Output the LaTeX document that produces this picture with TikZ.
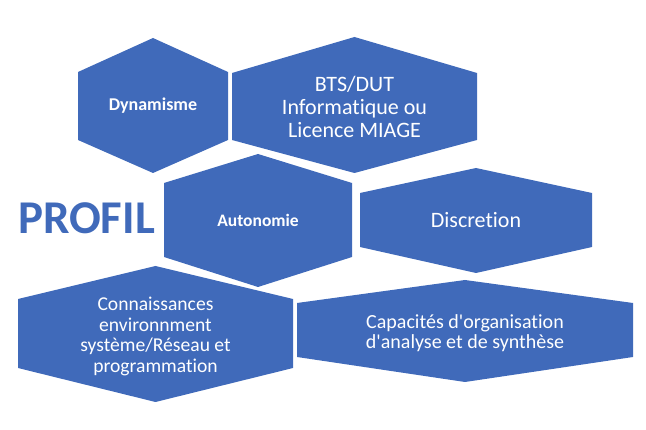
\documentclass[tikz,border=0pt]{standalone}
\usepackage{fontspec}
\setmainfont{Carlito}[Ligatures={TeX,NoCommon}]
\usepackage{tikz}
\definecolor{hexblue}{RGB}{64,106,186}
\tikzset{
    hexfill/.style={fill=hexblue},
    hextext/.style={text=white, align=center, inner sep=0pt}
}
\newcommand{\hexcell}[9]{%
    \fill[hexfill] (#2,#5) -- ({(#2+#3)/2},#4) -- (#3,#5) -- (#3,#6)
        -- ({(#2+#3)/2},#7) -- (#2,#6) -- cycle;
    \node[hextext, #8] (#1) at ({(#2+#3)/2},{(#5+#6)/2}) {#9};
}
\begin{document}
\begin{tikzpicture}[x=1pt, y=-1pt]
            \useasboundingbox (0,0) rectangle (646,430);
            \hexcell{dyn}{78}{228}{38}{72}{140}{173}{font=\fontsize{18}{20}\selectfont\bfseries}{Dynamisme}
            \hexcell{bts}{232}{477}{37}{73}{140}{173}{font=\fontsize{22}{23}\selectfont}{BTS/DUT\\Informatique ou\\Licence MIAGE}
            \hexcell{auton}{164}{352}{154}{183}{257}{287}{font=\fontsize{17.5}{19}\selectfont\bfseries}{Autonomie}
            \hexcell{disc}{360}{592}{168}{193}{247}{273}{font=\fontsize{22}{24}\selectfont}{Discretion}
            \hexcell{conn}{18}{293}{266}{299}{368}{402}{font=\fontsize{19.6}{20.5}\selectfont, yshift=-3pt}{Connaissances\\environnment\\système/Réseau et\\programmation}
            \hexcell{capa}{297}{633}{280}{303}{357}{382}{font=\fontsize{20}{20.5}\selectfont, yshift=-3pt}{Capacités d\textquotesingle organisation\\d\textquotesingle analyse et de synthèse}
            \node[text=hexblue, inner sep=0pt, font=\fontsize{47}{47}\selectfont\bfseries] (profil) at (86.5,218) {PROFIL};
        \end{tikzpicture}
\end{document}
